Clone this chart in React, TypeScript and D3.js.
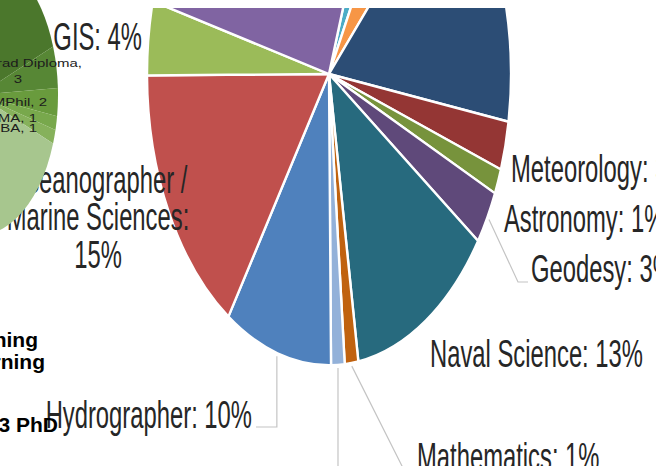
import React from 'react';
import * as d3 from 'd3';

// main pie, clockwise from the thin aqua slice near the top
const sliceNames = [
  'Physics', 'Chemistry', 'Geology', 'Meteorology', 'Astronomy', 'Geodesy',
  'Naval Science', 'Mathematics', 'Computer Science', 'Hydrographer',
  'Oceanographer / Marine Sciences', 'GIS', 'Engineering',
];
const sliceValues = [2.5, 4.3, 15.6, 2.7, 1.4, 3.0, 12.7, 1.2, 1.2, 9.5, 15.6, 4.1, 26.2];
const slicePct = ['', '', '', '3%', '1%', '3%', '13%', '1%', '', '10%', '15%', '4%', ''];

// small green pie on the left
const degreeNames = ['Training', 'Grad Diploma', 'MPhil', 'MA', 'MBA', 'PhD'];
const degreeCounts = [12, 3, 2, 1, 1, 43];

const legendLines = ['Training', 'Learning', '3 PhD'];

const W = 656;
const H = 466;
const SY = 1.6; // the picture is stretched vertically
const font = 'Liberation Sans, Arial, sans-serif';

const colors = d3
  .scaleOrdinal<string, string>()
  .domain(sliceNames)
  .range(['#4bacc6', '#f79646', '#2c4d75', '#943634', '#77933c', '#5f497a', '#276a7e',
    '#c0620f', '#93b1d9', '#4f81bd', '#c0504d', '#9bbb59', '#8064a2']);

const greens = d3
  .scaleOrdinal<string, string>()
  .domain(degreeNames)
  .range(['#4b772c', '#578735', '#699b3d', '#78a84c', '#86b15b', '#a7c68e']);

// label layout in page pixels
const labelLayout: Record<string, { x: number; y: number[]; anchor: string; lines?: string[] }> = {
  Meteorology: { x: 511, y: [182], anchor: 'start' },
  Astronomy: { x: 504, y: [232], anchor: 'start' },
  Geodesy: { x: 531, y: [282], anchor: 'start' },
  'Naval Science': { x: 430, y: [367], anchor: 'start' },
  Mathematics: { x: 417, y: [470], anchor: 'start' },
  Hydrographer: { x: 252, y: [428], anchor: 'end' },
  'Oceanographer / Marine Sciences': {
    x: 98, y: [193, 230, 268], anchor: 'middle',
    lines: ['Oceanographer /', 'Marine Sciences:', '15%'],
  },
  GIS: { x: 142, y: [50], anchor: 'end' },
};

const leaderLayout: Record<string, number[][]> = {
  Geodesy: [[518, 282], [528, 282]],
  Mathematics: [[403, 468], [413, 468]],
  'Computer Science': [[NaN, 480]],
  Hydrographer: [[NaN, 427], [256, 427]],
};

const degreeLabels: Record<string, { x: number; y: number; anchor: string; text: string }[]> = {
  'Grad Diploma': [
    { x: 82, y: 67, anchor: 'end', text: 'Grad Diploma,' },
    { x: 18, y: 83, anchor: 'middle', text: '3' },
  ],
  MPhil: [{ x: 47, y: 106, anchor: 'end', text: 'MPhil, 2' }],
  MA: [{ x: 37, y: 122, anchor: 'end', text: 'MA, 1' }],
  MBA: [{ x: 37, y: 132, anchor: 'end', text: 'MBA, 1' }],
};

const App: React.FC = () => {
  const cx = 329;
  const cy = 74 / SY;
  const R = 182;
  const start = (18.8 * Math.PI) / 180;

  const pie = d3.pie<number>().sort(null).startAngle(start).endAngle(start + 2 * Math.PI);
  const arcs = pie(sliceValues);
  const arc = d3.arc<d3.PieArcDatum<number>>().innerRadius(0).outerRadius(R);
  const edge = d3.arc<d3.PieArcDatum<number>>().innerRadius(R + 2).outerRadius(R + 2);

  const line = d3.line<number[]>().x((d) => d[0]).y((d) => d[1]);

  // left pie
  const lcx = -21;
  const lr = 79;
  const lsy = 140 / 79;
  const lcy = 95 / lsy;
  const leftArcs = d3.pie<number>().sort(null)(degreeCounts);
  const leftArc = d3.arc<d3.PieArcDatum<number>>().innerRadius(0).outerRadius(lr);

  return (
    <svg width={W} height={H} style={{ position: 'absolute', left: 0, top: 0, background: '#fff' }}>
      <defs>
        <clipPath id="mainClip">
          <rect x={0} y={8} width={W} height={H - 8} />
        </clipPath>
      </defs>

      <g clipPath="url(#mainClip)">
        <g transform={`scale(1,${SY})`}>
          <g transform={`translate(${cx},${cy})`}>
            {arcs.map((d, i) => (
              <path
                key={sliceNames[i]}
                d={arc(d) || ''}
                fill={colors(sliceNames[i])}
                stroke="#fff"
                strokeWidth={2.4}
                vectorEffect="non-scaling-stroke"
              />
            ))}
          </g>
          {arcs.map((d, i) => {
            const pts = leaderLayout[sliceNames[i]];
            if (!pts) return null;
            const [ex, ey] = edge.centroid(d);
            const p0 = [cx + ex, cy + ey];
            const path = [p0, ...pts.map((p) => [isNaN(p[0]) ? p0[0] : p[0], p[1] / SY])];
            return (
              <path
                key={'l' + i}
                d={line(path) || ''}
                fill="none"
                stroke="#c4c4c4"
                strokeWidth={1.2}
                vectorEffect="non-scaling-stroke"
              />
            );
          })}
          {sliceNames.map((name, i) => {
            const lay = labelLayout[name];
            if (!lay) return null;
            const lines = lay.lines || [`${name}: ${slicePct[i]}`];
            return lines.map((t, j) => (
              <text
                key={name + j}
                x={lay.x}
                y={lay.y[j] / SY}
                textAnchor={lay.anchor}
                fontFamily={font}
                fontSize={23.8}
                fill="#262626"
              >
                {t}
              </text>
            ));
          })}
        </g>
      </g>

      <g transform={`scale(1,${lsy})`}>
        <g transform={`translate(${lcx},${lcy})`}>
          {leftArcs.map((d, i) => (
            <path key={degreeNames[i]} d={leftArc(d) || ''} fill={greens(degreeNames[i])} />
          ))}
        </g>
      </g>
      {degreeNames.map((name) =>
        (degreeLabels[name] || []).map((l, j) => (
          <text
            key={name + j}
            transform={`translate(${l.x},${l.y}) scale(1.5,1)`}
            textAnchor={l.anchor}
            fontFamily={font}
            fontSize={10}
            fill="#1c1c1c"
          >
            {l.text}
          </text>
        ))
      )}

      {legendLines.map((t, i) => (
        <text
          key={t}
          x={[38, 45, 58][i]}
          y={[347, 369, 432][i]}
          textAnchor="end"
          fontFamily={font}
          fontWeight="bold"
          fontSize={21}
          fill="#000"
        >
          {t}
        </text>
      ))}
    </svg>
  );
};

export default App;
